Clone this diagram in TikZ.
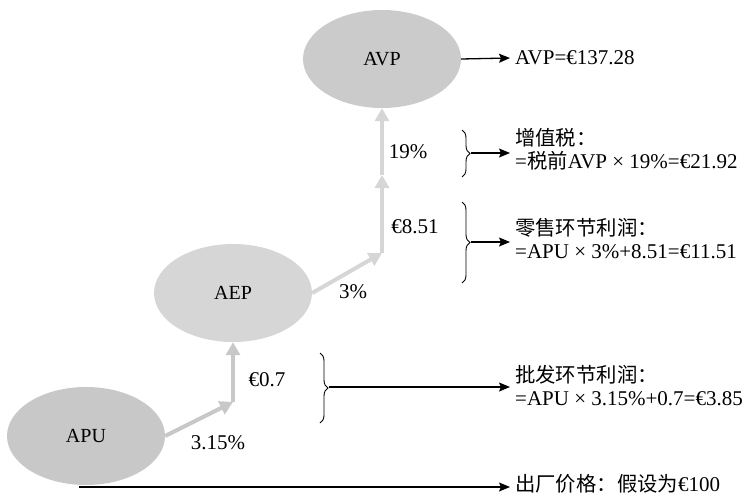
\documentclass[tikz,border=0pt]{standalone}
\usepackage{fontspec}
\setmainfont{Liberation Serif}
\newfontfamily\cjk[Scale=0.97]{Noto Sans CJK SC}
\usetikzlibrary{arrows.meta,decorations.pathreplacing,shapes.geometric}
\definecolor{gA}{HTML}{C8C8C8}
\definecolor{gB}{HTML}{D6D6D6}
\definecolor{gC}{HTML}{CBCBCB}
\tikzset{
  ell/.style={ellipse,minimum width=158pt,minimum height=98pt,inner sep=0pt,font=\fontsize{20}{22}\selectfont},
  flow/.style={line width=4pt,-{Triangle[length=13pt,width=14pt]}},
  lbl/.style={font=\fontsize{21}{23}\selectfont,inner sep=0pt},
  txt/.style={font=\fontsize{21}{23}\selectfont,inner xsep=5pt,inner ysep=0pt,anchor=west,align=left},
  blk/.style={line width=1.3pt,-{Stealth[length=11pt,width=9pt,inset=2pt]}},
  brc/.style={line width=0.9pt,decorate,decoration={brace,amplitude=8pt}}
}
\begin{document}
\begin{tikzpicture}[x=1pt,y=-1pt]
\useasboundingbox (0,0) rectangle (746,495);
% ellipses
\node[ell,fill=gC] (AVP) at (382,59) {AVP};
\node[ell,fill=gB] (AEP) at (233,293) {AEP};
\node[ell,fill=gA] (APU) at (86,436) {APU};
% flow coordinates
\coordinate (c1) at (233,402);
\coordinate (c2) at (382,253);
\coordinate (c3) at (382,175);
\draw[flow,gA] (APU.east) -- (c1);
\draw[flow,gA] (c1) -- (AEP.south);
\draw[flow,gB] (AEP.east) -- (c2);
\draw[flow,gB] (c2) -- (c3);
\draw[flow,gB] (c3) -- (AVP.south);
% labels
\node[lbl] (l1) at (218,443) {3.15\%};
\node[lbl] (l2) at (267,380) {€0.7};
\node[lbl] (l3) at (353,292) {3\%};
\node[lbl] (l4) at (415,227) {€8.51};
\node[lbl] (l5) at (408,152) {19\%};
% right texts
\node[txt] (tAVP) at (510,58) {AVP=€137.28};
\node[txt] (tVAT) at (510,149) {{\cjk 增值税：}\\={\cjk 税前}AVP × 19\%=€21.92};
\node[txt] (tRet) at (510,239) {{\cjk 零售环节利润：}\\=APU × 3\%+8.51=€11.51};
\node[txt] (tWho) at (510,386) {{\cjk 批发环节利润：}\\=APU × 3.15\%+0.7=€3.85};
\node[txt] (tFac) at (510,484) {{\cjk 出厂价格：假设为}€100};
% braces
\draw[brc] (462,130) -- (462,177) coordinate[midway] (b1);
\draw[brc] (462,202) -- (462,283) coordinate[midway] (b2);
\draw[brc] (320,353) -- (320,423) coordinate[midway] (b3);
\coordinate (t1) at (471,153);
\coordinate (t2) at (471,242);
\coordinate (t3) at (329,387);
\coordinate (f0) at (79,487);
% black arrows
\draw[blk] (AVP.east) -- (tAVP.west);
\draw[blk] (t1) -- (tVAT.west |- t1);
\draw[blk] (t2) -- (tRet.west |- t2);
\draw[blk] (t3) -- (tWho.west |- t3);
\draw[blk] (f0) -- (tFac.west |- f0);
\end{tikzpicture}
\end{document}
